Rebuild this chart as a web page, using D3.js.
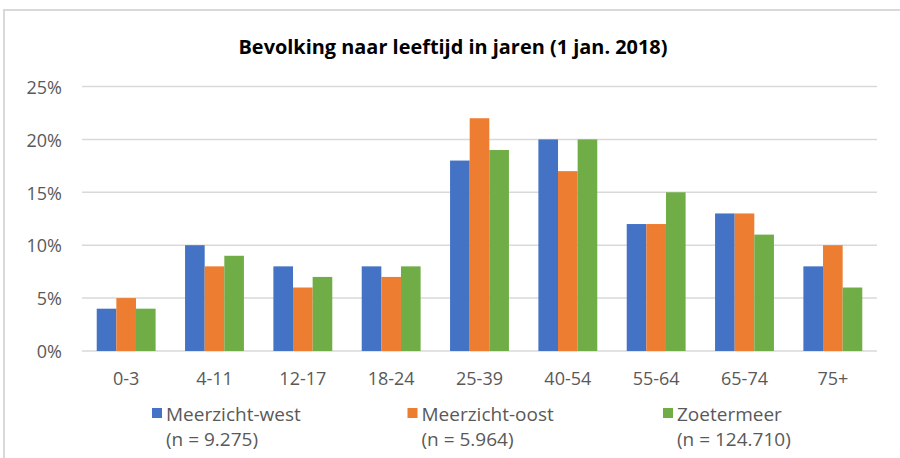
<!DOCTYPE html>
<html>
<head>
<meta charset="utf-8">
<script src="https://cdnjs.cloudflare.com/ajax/libs/d3/7.8.5/d3.min.js"></script>
<style>
  body { margin: 0; background: #fff; }
  text { font-family: "Open Sans", "Noto Sans", sans-serif; }
</style>
</head>
<body>
<div id="chart"></div>
<script>
// data (percentages)
var categories = ['0-3', '4-11', '12-17', '18-24', '25-39', '40-54', '55-64', '65-74', '75+'];
var series = ['Meerzicht-west', 'Meerzicht-oost', 'Zoetermeer'];
var series_n = ['(n = 9.275)', '(n = 5.964)', '(n = 124.710)'];
var west = [4, 10, 8, 8, 18, 20, 12, 13, 8];
var oost = [5, 8, 6, 7, 22, 17, 12, 13, 10];
var zoetermeer = [4, 9, 7, 8, 19, 20, 15, 11, 6];
var y_ticks = [0, 5, 10, 15, 20, 25];
var colors = ['#4472C4', '#ED7D31', '#70AD47'];

var values = [west, oost, zoetermeer];

var chart_width = 900;
var chart_height = 458;

var svg = d3.select('#chart')
  .append('svg')
  .attr('width', chart_width)
  .attr('height', chart_height);

svg.append('rect')
  .attr('width', chart_width)
  .attr('height', chart_height)
  .attr('fill', '#fff');

// frame (only top and left edge are visible)
svg.append('path')
  .attr('d', 'M4,458 V10 H900')
  .attr('fill', 'none')
  .attr('stroke', '#d9d9d9')
  .attr('stroke-width', 2);

// title
svg.append('text')
  .attr('x', 453)
  .attr('y', 54)
  .attr('text-anchor', 'middle')
  .attr('font-size', 20)
  .attr('font-weight', 'bold')
  .attr('fill', '#000')
  .attr('textLength', 429)
  .attr('lengthAdjust', 'spacingAndGlyphs')
  .text('Bevolking naar leeftijd in jaren (1 jan. 2018)');

// scales
var x_scale = d3.scaleBand()
  .domain(categories)
  .range([82, 877])
  .paddingInner(1 / 3)
  .paddingOuter(1 / 6);

var x_sub = d3.scaleBand()
  .domain(series)
  .range([0, x_scale.bandwidth()]);

var y_scale = d3.scaleLinear()
  .domain([0, 25])
  .range([351, 86.5]);

// gridlines
svg.selectAll('.grid')
  .data(y_ticks)
  .enter()
  .append('line')
  .attr('class', 'grid')
  .attr('x1', 82)
  .attr('x2', 877)
  .attr('y1', function(d) { return y_scale(d); })
  .attr('y2', function(d) { return y_scale(d); })
  .attr('stroke', '#d9d9d9')
  .attr('stroke-width', 1.5);

// y tick labels
svg.selectAll('.ylab')
  .data(y_ticks)
  .enter()
  .append('text')
  .attr('class', 'ylab')
  .attr('x', 62)
  .attr('y', function(d) { return y_scale(d); })
  .attr('dy', '0.4em')
  .attr('text-anchor', 'end')
  .attr('font-size', 18)
  .attr('fill', '#595959')
  .text(function(d) { return d + '%'; });

// bars
var groups = svg.selectAll('.series')
  .data(series)
  .enter()
  .append('g')
  .attr('class', 'series')
  .attr('fill', function(d, i) { return colors[i]; });

groups.selectAll('rect')
  .data(function(s, si) {
    return categories.map(function(c, ci) {
      return { cat: c, ser: s, val: values[si][ci] };
    });
  })
  .enter()
  .append('rect')
  .attr('x', function(d) { return x_scale(d.cat) + x_sub(d.ser); })
  .attr('y', function(d) { return y_scale(d.val); })
  .attr('width', x_sub.bandwidth())
  .attr('height', function(d) { return y_scale(0) - y_scale(d.val); });

// category labels
svg.selectAll('.xlab')
  .data(categories)
  .enter()
  .append('text')
  .attr('class', 'xlab')
  .attr('x', function(d) { return x_scale(d) + x_scale.bandwidth() / 2; })
  .attr('y', 385)
  .attr('text-anchor', 'middle')
  .attr('font-size', 18)
  .attr('fill', '#595959')
  .text(function(d) { return d; });

// legend
var legend_x = d3.scalePoint()
  .domain(series)
  .range([152, 663]);

var legend = svg.selectAll('.legend')
  .data(series)
  .enter()
  .append('g')
  .attr('class', 'legend')
  .attr('transform', function(d) { return 'translate(' + legend_x(d) + ',0)'; });

legend.append('rect')
  .attr('y', 408)
  .attr('width', 10)
  .attr('height', 10)
  .attr('fill', function(d, i) { return colors[i]; });

legend.append('text')
  .attr('x', 14)
  .attr('y', 421)
  .attr('font-size', 19)
  .attr('fill', '#595959')
  .text(function(d) { return d; });

legend.append('text')
  .attr('x', 14)
  .attr('y', 446)
  .attr('font-size', 19)
  .attr('fill', '#595959')
  .text(function(d, i) { return series_n[i]; });
</script>
</body>
</html>
